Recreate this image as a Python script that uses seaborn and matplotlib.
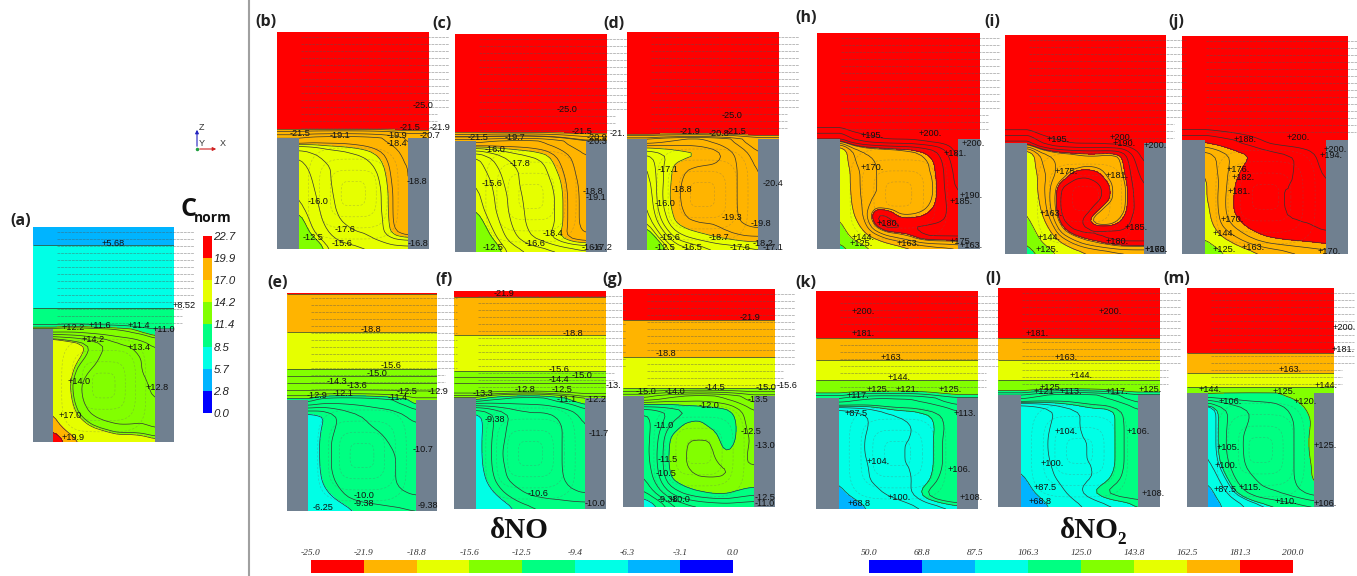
import numpy as np
import matplotlib
matplotlib.use('Agg')
import matplotlib.pyplot as plt
from matplotlib.colors import ListedColormap
import seaborn as sns

# band colours, low to high
band_colors = ['#0000ff', '#00b4ff', '#00ffe6', '#00ff82', '#82ff00', '#e6ff00', '#ffb400', '#ff0000']

cnorm_levels = [0.0, 2.8, 5.7, 8.5, 11.4, 14.2, 17.0, 19.9, 22.7]
no_levels = [-25.0, -21.9, -18.8, -15.6, -12.5, -9.4, -6.3, -3.1, 0.0]
no2_levels = [50.0, 68.8, 87.5, 106.3, 125.0, 143.8, 162.5, 181.3, 200.0]

cnorm_ticks = ['22.7', '19.9', '17.0', '14.2', '11.4', '8.5', '5.7', '2.8', '0.0']
no_ticks = ['-25.0', '-21.9', '-18.8', '-15.6', '-12.5', '-9.4', '-6.3', '-3.1', '0.0']
no2_ticks = ['50.0', '68.8', '87.5', '106.3', '125.0', '143.8', '162.5', '181.3', '200.0']

# values: upper block (value at a depth below the top edge)
a_top = ([0, 18, 81], [4.5, 5.7, 8.5])
b_top = ([0, 76, 96], [-27, -25, -22.3])
c_top = ([0, 78, 97], [-27, -25, -22.3])
d_top = ([0, 87, 100], [-27, -25, -22.6])
e_top = ([0, 39, 76, 96], [-22, -18.8, -15.6, -13.8])
f_top = ([0, 6, 44, 80, 96], [-22.5, -21.9, -18.8, -15.6, -14])
g_top = ([0, 31, 68, 99], [-23, -21.9, -18.8, -15.6])
h_top = ([0, 80], [215, 208])
i_top = ([0, 80], [215, 208])
j_top = ([0, 80], [215, 208])
k_top = ([0, 23, 47, 69, 89], [215, 200, 181.3, 162.5, 143.8])
l_top = ([0, 26, 50, 72, 92], [215, 200, 181.3, 162.5, 143.8])
m_top = ([0, 41, 65, 85, 99], [215, 200, 181.3, 162.5, 143.8])

# cavity values, top row first
a_cav = [[11.0, 11.2, 11.3, 11.3, 11.3, 11.3, 11.2, 11.0, 10.8],
         [15.5, 15, 14.6, 14.0, 13.5, 13, 12.8, 12.5, 12],
         [16, 15, 14.3, 13.8, 13.2, 13, 13, 12.8, 12.5],
         [16, 14.8, 13.8, 13.3, 13, 13, 13, 12.8, 12.5],
         [16.2, 14.6, 13.5, 13, 13, 13, 13, 13, 12.6],
         [16.5, 14.8, 13.6, 13, 13, 13, 13, 13, 12.8],
         [17.0, 15.2, 14, 13.3, 13, 13, 13, 13.2, 13],
         [18.5, 16.2, 15, 14.2, 13.8, 13.5, 13.5, 13.5, 13.3],
         [24, 19.5, 17, 16, 15.5, 15, 15, 14.8, 14.5]]
b_cav = [[-20.5, -20, -19.8, -19.7, -19.7, -19.8, -20, -20.4, -21],
         [-17, -17.5, -18, -18.2, -18.4, -18.6, -19, -19.6, -20.3],
         [-16.5, -17, -17.5, -17.8, -18, -18.2, -18.6, -19.4, -20],
         [-16.2, -16.8, -17.5, -17.8, -18, -18, -18.4, -19.3, -20],
         [-16, -16.6, -17.4, -17.8, -18, -18, -18.3, -19.2, -20],
         [-15.8, -16.4, -17.2, -17.8, -18, -18, -18.3, -19.2, -20],
         [-15.2, -16.2, -17, -17.6, -17.8, -18, -18.2, -19.2, -20],
         [-14.5, -15.8, -16.6, -17.2, -17.5, -17.6, -18.2, -19, -19.3],
         [-12.3, -14.3, -15.8, -16.3, -16.5, -16.7, -16.8, -17, -17]]
c_cav = [[-20.6, -20.2, -20, -19.8, -19.8, -20, -20.3, -20.7, -21],
         [-16.5, -17.2, -17.8, -18.2, -18.4, -18.6, -19.2, -19.8, -20.3],
         [-16.2, -16.8, -17.4, -17.8, -18, -18.3, -18.9, -19.6, -20.2],
         [-16, -16.5, -17.2, -17.8, -18, -18.2, -18.6, -19.5, -20],
         [-15.8, -16.4, -17, -17.7, -18, -18.1, -18.5, -19.4, -20],
         [-15.6, -16.3, -17, -17.6, -18, -18.1, -18.5, -19.4, -20],
         [-15, -16, -16.8, -17.5, -18, -18.1, -18.5, -19.4, -20],
         [-14.2, -15.5, -16.5, -17.2, -17.8, -18.2, -18.8, -19.4, -19.6],
         [-12.2, -14.2, -15.8, -16.3, -16.6, -16.8, -17, -17.2, -17.4]]
d_cav = [[-21, -20.5, -20.2, -20.0, -20.0, -20.2, -20.5, -21, -21.3],
         [-17.5, -18, -18.3, -18.5, -18.7, -19, -19.6, -20.2, -20.8],
         [-17, -18, -19, -19.3, -19.4, -19.4, -19.6, -20, -20.5],
         [-16.8, -18, -19.1, -19.5, -19.6, -19.6, -19.6, -20, -20.4],
         [-16.5, -18.1, -19.2, -19.5, -19.6, -19.5, -19.6, -20, -20.4],
         [-16.3, -18, -19.1, -19.5, -19.5, -19.3, -19.6, -20, -20.3],
         [-16, -17.5, -18.9, -19.3, -19.4, -19.4, -19.6, -19.9, -20.1],
         [-14.8, -16.5, -17.8, -18.4, -18.7, -19, -19.2, -19.4, -19.4],
         [-12.3, -15, -16.5, -16.8, -17.2, -17.5, -17.6, -17.8, -18]]
e_cav = [[-13, -12.3, -12, -11.9, -11.9, -12, -12.2, -12.5, -12.9],
         [-9, -9.2, -9.9, -10.4, -10.7, -10.9, -11, -11.3, -11.8],
         [-8.8, -9.4, -10, -10.4, -10.6, -10.7, -10.8, -11, -11.2],
         [-8.8, -9.5, -10.2, -10.5, -10.6, -10.6, -10.7, -10.9, -11],
         [-8.8, -9.5, -10.2, -10.5, -10.6, -10.6, -10.6, -10.8, -11],
         [-8.7, -9.5, -10.2, -10.5, -10.6, -10.6, -10.6, -10.8, -11],
         [-8.4, -9.4, -10, -10.4, -10.6, -10.6, -10.6, -10.8, -11],
         [-8, -8.9, -9.6, -10.1, -10.3, -10.4, -10.5, -10.6, -10.7],
         [-6.2, -7.2, -8.5, -9.2, -9.5, -9.6, -9.7, -9.8, -9.9]]
f_cav = [[-13.4, -12.9, -12.6, -12.4, -12.3, -12.4, -12.6, -12.8, -13],
         [-9.2, -9.8, -10.4, -10.8, -11, -11, -11.2, -11.5, -12],
         [-9, -9.8, -10.5, -10.9, -10.9, -10.7, -11, -11.3, -11.7],
         [-9, -9.9, -10.6, -10.9, -10.9, -10.9, -11, -11.3, -11.7],
         [-9, -9.9, -10.7, -10.9, -11, -10.9, -11, -11.3, -11.7],
         [-8.9, -9.9, -10.6, -10.9, -11, -10.9, -11, -11.3, -11.6],
         [-8.6, -9.7, -10.5, -10.8, -10.9, -10.9, -11, -11.2, -11.4],
         [-8, -9, -9.9, -10.4, -10.7, -10.8, -10.9, -11, -11.1],
         [-6.8, -7.6, -8.8, -9.5, -9.8, -10, -10, -10.1, -10.1]]
g_cav = [[-14.8, -14.4, -14, -13.8, -13.6, -13.7, -13.9, -14.2, -14.5],
         [-11, -11.2, -11.5, -11.8, -12, -12.1, -12.3, -12.9, -13.5],
         [-10.8, -11.2, -12, -12.6, -12.7, -12.2, -11.8, -12.8, -13.3],
         [-10.7, -11.4, -12.7, -13, -13, -13, -11.9, -12.8, -13.1],
         [-10.7, -11.5, -12.8, -13, -13.1, -13.1, -12.4, -12.9, -13.1],
         [-10.6, -11.5, -12.8, -13, -13.1, -13.1, -13, -13, -13],
         [-10.4, -11.3, -12.6, -12.9, -13, -13, -13, -12.9, -12.9],
         [-9.9, -10.7, -11.6, -12.2, -12.5, -12.7, -12.7, -12.4, -12.2],
         [-8.5, -9.3, -10.2, -10.6, -10.8, -10.9, -11, -11, -11]]
h_cav = [[190, 193, 195, 197, 198, 198, 198, 199, 200, 200, 200],
         [150, 170, 175, 176, 177, 178, 179, 181, 184, 190, 198],
         [150, 168, 174, 175, 176, 177, 178, 179, 181, 187, 195],
         [148, 165, 172, 175, 176, 177, 178, 179, 180.5, 186, 193],
         [148, 165, 172, 175, 176, 177, 178, 178, 180, 186, 192],
         [147, 164, 172, 175, 176, 177, 178, 178, 180, 185.5, 190],
         [146, 163, 171, 178, 177, 178, 178, 178.5, 181, 185, 188],
         [145, 160, 170, 187, 186, 180, 180, 181, 183, 185, 187],
         [138, 155, 165, 181, 188, 187, 186, 186, 186, 186, 186],
         [128, 145, 156, 164, 172, 176, 180, 185, 186, 186, 186],
         [120, 125, 137, 146, 152, 157, 160, 163, 165, 166, 168]]
i_cav = [[188, 192, 195, 197, 198, 198, 198, 199, 199, 200, 200],
         [150, 170, 175, 177, 178, 179, 179, 178, 180, 190, 198],
         [150, 168, 174, 176, 178, 179, 179, 178.5, 179, 187, 195],
         [148, 165, 173, 178, 184, 185, 183, 179, 178, 186, 192],
         [148, 165, 175, 186, 188, 188, 187, 182, 176, 185, 190],
         [146, 163, 176, 187, 189, 189, 187, 182, 176, 185, 188],
         [144, 160, 175, 187, 189, 188, 182, 177, 177, 185, 187],
         [140, 155, 170, 185, 189, 183, 176, 176, 181, 186, 187],
         [132, 148, 162, 178, 185, 187, 187, 187, 186, 186, 186],
         [125, 140, 152, 163, 172, 178, 181, 184, 186, 186, 186],
         [118, 125, 138, 148, 155, 160, 163, 165, 167, 168, 168]]
j_cav = [[186, 188, 190, 193, 197, 199, 200, 200, 200],
         [165, 172, 178, 180.5, 184, 186, 188, 192, 198],
         [163, 172, 179, 184, 186, 187, 188, 191, 196],
         [160, 171, 182, 186, 188, 188, 188, 190, 194],
         [160, 172, 183, 187, 188, 188, 188, 190, 193],
         [158, 172, 183, 187, 188, 188, 188, 189, 191],
         [155, 170, 178, 184, 187, 188, 188, 188, 190],
         [143, 160, 168, 175, 180, 182, 183, 184, 185],
         [123, 138, 152, 158, 162, 165, 168, 170, 172]]
k_cav = [[122, 118, 116, 115, 115, 115, 117, 120, 122],
         [95, 98, 100, 103, 104.5, 105, 106, 108, 112],
         [93, 97, 100, 102, 103, 104, 105, 107.5, 110],
         [92, 97, 101, 103, 104, 104, 105, 108, 110],
         [92, 97, 101, 103, 104, 104, 105, 108, 110],
         [91, 96, 100, 103, 104, 104, 105, 108, 110],
         [88, 95, 100, 102, 103, 104, 105.5, 109, 111],
         [83, 91, 96, 100, 102, 104, 109, 112, 113],
         [66, 78, 88, 93, 96, 98, 100, 102, 104]]
l_cav = [[122, 118, 115, 113, 113, 114, 116, 120, 122],
         [92, 95, 99, 102, 104, 105, 105, 108, 113],
         [90, 95, 100, 103, 104, 105, 105, 108, 110],
         [90, 96, 101, 103, 104, 104, 105, 108, 110],
         [90, 96, 101, 103, 104, 104, 105, 108, 110],
         [89, 96, 100, 103, 104, 104, 105, 108, 110],
         [85, 93, 99, 102, 103, 104, 106, 108.5, 110],
         [78, 89, 95, 100, 104, 107, 109, 110, 110],
         [65, 78, 88, 95, 99, 101, 103, 104, 106]]
m_cav = [[130, 128, 127, 126, 126, 126, 127, 128, 130],
         [100, 108, 112, 115, 116, 117, 120, 124, 127],
         [100, 108, 112, 115, 116, 117, 118, 122, 126],
         [100, 108, 113, 116, 117, 117, 118, 122, 127],
         [100, 108, 113, 116, 117, 117, 118, 122, 127],
         [98, 107, 112, 116, 117, 117, 118, 122, 126],
         [90, 103, 110, 114, 116, 117, 118, 122, 126],
         [80, 96, 106, 111, 114, 115, 117, 120, 124],
         [72, 86, 94, 100, 103, 105, 106, 107, 108]]

# contour labels: x, y in image pixels, text
a_labels = [(102, 243, '+5.68'), (173, 306, '+8.52'), (62, 328, '+12.2'), (89, 325, '+11.6'),
            (128, 326, '+11.4'), (153, 329, '+11.0'), (82, 339, '+14.2'), (128, 347, '+13.4'),
            (68, 381, '+14.0'), (146, 388, '+12.8'), (59, 416, '+17.0'), (62, 438, '+19.9')]
b_labels = [(413, 105, '-25.0'), (290, 133, '-21.5'), (330, 135, '-19.1'), (387, 135, '-19.9'),
            (400, 128, '-21.5'), (430, 128, '-21.9'), (420, 136, '-20.7'), (387, 144, '-18.4'),
            (407, 182, '-18.8'), (308, 202, '-16.0'), (335, 230, '-17.6'), (303, 238, '-12.5'),
            (332, 244, '-15.6'), (408, 244, '-16.8')]
c_labels = [(557, 109, '-25.0'), (468, 137, '-21.5'), (505, 137, '-19.7'), (572, 132, '-21.5'),
            (587, 137, '-20.9'), (610, 134, '-21.'), (587, 142, '-20.3'), (485, 150, '-16.0'),
            (510, 163, '-17.8'), (482, 184, '-15.6'), (583, 191, '-18.8'), (586, 198, '-19.1'),
            (543, 233, '-18.4'), (525, 244, '-16.6'), (483, 247, '-12.5'), (582, 247, '-16.6'),
            (592, 247, '-17.2')]
d_labels = [(722, 115, '-25.0'), (680, 131, '-21.9'), (709, 133, '-20.8'), (726, 132, '-21.5'),
            (658, 169, '-17.1'), (672, 189, '-18.8'), (655, 203, '-16.0'), (722, 217, '-19.3'),
            (751, 224, '-19.8'), (763, 183, '-20.4'), (660, 237, '-15.6'), (709, 237, '-18.7'),
            (655, 247, '-12.5'), (682, 247, '-16.5'), (730, 247, '-17.6'), (753, 244, '-18.2'),
            (763, 247, '-17.1')]
e_labels = [(361, 329, '-18.8'), (381, 366, '-15.6'), (367, 373, '-15.0'), (327, 381, '-14.3'),
            (347, 385, '-13.6'), (307, 396, '-12.9'), (333, 393, '-12.1'), (397, 391, '-12.5'),
            (388, 397, '-11.4'), (428, 392, '-12.9'), (413, 450, '-10.7'), (354, 496, '-10.0'),
            (354, 503, '-9.38'), (313, 507, '-6.25'), (418, 506, '-9.38')]
f_labels = [(494, 294, '-21.9'), (563, 333, '-18.8'), (549, 369, '-15.6'), (572, 375, '-15.0'),
            (549, 379, '-14.4'), (606, 385, '-13.'), (473, 393, '-13.3'), (515, 389, '-12.8'),
            (552, 390, '-12.5'), (557, 399, '-11.1'), (586, 399, '-12.2'), (485, 420, '-9.38'),
            (589, 434, '-11.7'), (528, 493, '-10.6'), (585, 503, '-10.0')]
g_labels = [(740, 317, '-21.9'), (656, 354, '-18.8'), (636, 392, '-15.0'), (665, 391, '-14.0'),
            (705, 387, '-14.5'), (756, 388, '-15.0'), (777, 385, '-15.6'), (748, 399, '-13.5'),
            (699, 405, '-12.0'), (654, 426, '-11.0'), (741, 432, '-12.5'), (755, 446, '-13.0'),
            (658, 460, '-11.5'), (656, 474, '-10.5'), (658, 500, '-9.38'), (670, 500, '-10.0'),
            (755, 497, '-12.5'), (755, 503, '-11.0')]
h_labels = [(861, 136, '+195.'), (919, 133, '+200.'), (962, 144, '+200.'), (944, 154, '+181.'),
            (861, 168, '+170.'), (960, 195, '+190.'), (950, 202, '+185.'), (877, 223, '+180.'),
            (852, 237, '+144.'), (850, 244, '+125.'), (897, 244, '+163.'), (950, 241, '+175.'),
            (960, 245, '+163.')]
i_labels = [(1047, 139, '+195.'), (1110, 138, '+200.'), (1113, 143, '+190.'), (1144, 145, '+200.'),
            (1055, 171, '+175.'), (1106, 176, '+181.'), (1040, 214, '+163.'), (1125, 228, '+185.'),
            (1038, 237, '+144.'), (1106, 242, '+180.'), (1036, 249, '+125.'), (1145, 249, '+170.'),
            (1145, 250, '+163.')]
j_labels = [(1234, 140, '+188.'), (1287, 138, '+200.'), (1324, 149, '+200.'), (1320, 156, '+194.'),
            (1227, 169, '+176.'), (1232, 178, '+182.'), (1228, 192, '+181.'), (1221, 220, '+170.'),
            (1213, 234, '+144.'), (1213, 249, '+125.'), (1242, 248, '+163.'), (1318, 251, '+170.')]
k_labels = [(852, 311, '+200.'), (852, 334, '+181.'), (881, 357, '+163.'), (888, 377, '+144.'),
            (867, 390, '+125.'), (896, 390, '+121.'), (939, 390, '+125.'), (847, 395, '+117.'),
            (845, 414, '+87.5'), (954, 413, '+113.'), (867, 462, '+104.'), (948, 469, '+106.'),
            (888, 497, '+100.'), (960, 497, '+108.'), (848, 504, '+68.8')]
l_labels = [(1099, 311, '+200.'), (1026, 334, '+181.'), (1055, 357, '+163.'), (1070, 376, '+144.'),
            (1040, 388, '+125.'), (1034, 392, '+121'), (1060, 392, '+113.'), (1106, 392, '+117.'),
            (1139, 390, '+125.'), (1055, 432, '+104.'), (1127, 432, '+106.'), (1041, 463, '+100.'),
            (1034, 487, '+87.5'), (1142, 494, '+108.'), (1029, 501, '+68.8')]
m_labels = [(1333, 327, '+200.'), (1332, 350, '+181.'), (1279, 370, '+163.'), (1199, 390, '+144.'),
            (1315, 385, '+144.'), (1273, 392, '+125.'), (1219, 402, '+106.'), (1294, 402, '+120.'),
            (1217, 447, '+105.'), (1314, 445, '+125.'), (1215, 466, '+100.'), (1214, 489, '+87.5'),
            (1239, 488, '+115.'), (1275, 502, '+110.'), (1314, 503, '+106.')]

letters = [(10, 221, '(a)'), (255, 22, '(b)'), (432, 24, '(c)'), (603, 24, '(d)'), (267, 283, '(e)'),
           (435, 280, '(f)'), (602, 280, '(g)'), (795, 18, '(h)'), (984, 22, '(i)'), (1168, 22, '(j)'),
           (795, 283, '(k)'), (985, 279, '(l)'), (1163, 279, '(m)')]

# left, right, top, bottom, cavity left, cavity right, cavity top (pixels)
panels = [
    (33, 174, 227, 442, 52.5, 155, 329, a_top, a_cav, a_labels, cnorm_levels),
    (277, 429, 32, 249, 298.5, 408, 138, b_top, b_cav, b_labels, no_levels),
    (455, 607, 34, 252, 476, 586, 141, c_top, c_cav, c_labels, no_levels),
    (627, 779, 32, 250, 647, 758, 139, d_top, d_cav, d_labels, no_levels),
    (287, 437, 293, 511, 308, 416, 400, e_top, e_cav, e_labels, no_levels),
    (454, 606, 291, 509, 476, 585, 398, f_top, f_cav, f_labels, no_levels),
    (623, 775, 289, 507, 644, 754, 396, g_top, g_cav, g_labels, no_levels),
    (817, 980, 33, 249, 839.5, 958, 139, h_top, h_cav, h_labels, no2_levels),
    (1005, 1166, 35, 254, 1027, 1144, 143, i_top, i_cav, i_labels, no2_levels),
    (1182, 1348, 36, 254, 1205, 1326, 140, j_top, j_cav, j_labels, no2_levels),
    (816, 978, 291, 509, 838.6, 956.5, 398, k_top, k_cav, k_labels, no2_levels),
    (998, 1160, 288, 507, 1021, 1138, 395, l_top, l_cav, l_labels, no2_levels),
    (1187, 1334, 288, 507, 1207.5, 1314, 393, m_top, m_cav, m_labels, no2_levels),
]

W, H = 1357, 576
sns.set_theme(style='white')
plt.rcParams['font.family'] = ['Liberation Sans', 'DejaVu Sans']
fig = plt.figure(figsize=(W / 100, H / 100), dpi=100)


def px_axes(x0, x1, y0, y1):
    return fig.add_axes([x0 / W, 1 - y1 / H, (x1 - x0) / W, (y1 - y0) / H])


def soften(grid, n=4):
    # finer mesh over the read values so the contours do not come out as polygons
    nrow, ncol = grid.shape
    xi = np.linspace(0, ncol - 1, (ncol - 1) * n + 1)
    yi = np.linspace(0, nrow - 1, (nrow - 1) * n + 1)
    fine = np.array([np.interp(xi, np.arange(ncol), row) for row in grid])
    fine = np.array([np.interp(yi, np.arange(nrow), col) for col in fine.T]).T
    for _ in range(3):
        pad = np.pad(fine, 1, mode='edge')
        fine = (pad[1:-1, :-2] + 2 * pad[1:-1, 1:-1] + pad[1:-1, 2:]) / 4
        pad = np.pad(fine, 1, mode='edge')
        fine = (pad[:-2, 1:-1] + 2 * pad[1:-1, 1:-1] + pad[2:, 1:-1]) / 4
    return fine


loop_sizes = [0.22, 0.42, 0.62, 0.82]
overlay_items = []

for left, right, top, bottom, cl, cr, lip, top_prof, cav, labels, levels in panels:
    ax = px_axes(left, right, top, bottom)
    cav = soften(np.array(cav, dtype=float))
    nrow, ncol = cav.shape
    x = np.r_[left, np.linspace(cl, cr, ncol), right]
    y = np.r_[top + np.array(top_prof[0], dtype=float), np.linspace(lip, bottom, nrow)]
    top_rows = np.outer(top_prof[1], np.ones(ncol + 2))
    cav_rows = np.c_[cav[:, 0], cav, cav[:, -1]]
    field = np.vstack([top_rows, cav_rows])

    colors = band_colors if levels is not no_levels else band_colors[::-1]
    ax.contourf(x, y, np.clip(field, levels[0], levels[-1]), levels=levels, colors=colors)

    # black lines at the band edges and at the labelled values
    span = levels[-1] - levels[0]
    extras = [float(t[2].strip('+.')) for t in labels]
    extras = [v for v in extras if min(abs(v - b) for b in levels) > span * 0.006]
    line_levels = sorted(set(levels[1:-1]) | set(extras))
    ax.contour(x, y, field, levels=line_levels, colors='#333333', linewidths=0.5, linestyles='solid')

    for x0, x1 in [(left, cl), (cr, right)]:
        ax.fill_between([x0, x1], lip, bottom, color='#708090', lw=0, zorder=5)
    ax.set_xlim(left, right)
    ax.set_ylim(bottom, top)
    ax.axis('off')
    overlay_items.append((left, right, top, bottom, cl, cr, lip, labels))

# colour bars
cnorm_bar = px_axes(203, 212, 236, 413)
sns.heatmap(np.arange(8)[::-1].reshape(8, 1), ax=cnorm_bar, cmap=ListedColormap(band_colors), cbar=False,
            xticklabels=False)
cnorm_bar.yaxis.tick_right()
cnorm_bar.set_yticks(np.arange(9))
cnorm_bar.set_yticklabels(cnorm_ticks, rotation=0, fontsize=8.2, style='italic', color='#222222')
cnorm_bar.tick_params(axis='y', length=0, pad=1)

no_bar = px_axes(311, 733, 560, 573)
sns.heatmap(np.arange(8).reshape(1, 8), ax=no_bar, cmap=ListedColormap(band_colors[::-1]), cbar=False,
            yticklabels=False)
no2_bar = px_axes(869, 1293, 560, 573)
sns.heatmap(np.arange(8).reshape(1, 8), ax=no2_bar, cmap=ListedColormap(band_colors), cbar=False,
            yticklabels=False)
for bar, ticks in [(no_bar, no_ticks), (no2_bar, no2_ticks)]:
    bar.xaxis.tick_top()
    bar.set_xticks(np.arange(9))
    bar.set_xticklabels(ticks, rotation=0, fontsize=6.8, style='italic', family='Liberation Serif',
                        color='#333333')
    bar.tick_params(axis='x', length=0, pad=2)

ov = fig.add_axes([0, 0, 1, 1], facecolor='none')
ov.set_xlim(0, W)
ov.set_ylim(H, 0)
ov.axis('off')

ov.plot([249, 249], [0, H], color='#a0a0a0', lw=1.5)

for left, right, top, bottom, cl, cr, lip, labels in overlay_items:
    # flow dashes in the upper block, running past the right edge
    rows = np.arange(top + 5, lip - 4, 7)
    for n, row in enumerate(rows):
        reach = right + (20 if n < len(rows) * 0.75 else 8)
        ov.plot([left + 24, reach], [row, row], color='#555555', lw=0.5, alpha=0.55,
                ls=(0, (4, 1.2)))
    # recirculation dashes in the cavity
    cx, cy = (cl + cr) / 2, (lip + bottom) / 2
    t = np.linspace(0, 2 * np.pi, 120)
    for s in loop_sizes:
        px = cx + s * (cr - cl) / 2 * np.sign(np.cos(t)) * np.abs(np.cos(t)) ** 0.5
        py = cy + s * (bottom - lip) / 2 * np.sign(np.sin(t)) * np.abs(np.sin(t)) ** 0.5
        ov.plot(px, py, color='#666666', lw=0.4, alpha=0.4, ls=(0, (4, 3)))
    for tx, ty, text in labels:
        ov.text(tx, ty, text, fontsize=6.6, va='center', ha='left', color='#111111')

for tx, ty, text in letters:
    ov.text(tx, ty, text, fontsize=11.5, fontweight='bold', family='Open Sans', va='center', ha='left',
            color='#222222')

# titles
ov.text(181, 209, 'C', fontsize=18, fontweight='bold', family='Open Sans', va='center', ha='left', color='#111111')
ov.text(194, 218, 'norm', fontsize=10, fontweight='bold', family='Open Sans', va='center', ha='left', color='#111111')
ov.text(519, 531, 'δNO', fontsize=21, fontweight='bold', family='Liberation Serif', va='center', ha='center',
        color='#111111')
ov.text(1094, 531, 'δNO₂', fontsize=21, fontweight='bold', family=['Liberation Serif', 'DejaVu Serif'], va='center',
        ha='center', color='#111111')

# axis triad
ov.annotate('', xy=(197, 127), xytext=(197, 149), arrowprops=dict(arrowstyle='-|>', color='#2020c0', lw=0.8, mutation_scale=5))
ov.annotate('', xy=(219, 149), xytext=(197, 149), arrowprops=dict(arrowstyle='-|>', color='#d02020', lw=0.8, mutation_scale=5))
ov.plot([197], [149], marker='o', ms=1.5, color='#20a040')
for tx, ty, text in [(199, 128, 'Z'), (199, 144, 'Y'), (220, 144, 'X')]:
    ov.text(tx, ty, text, fontsize=6.5, va='center', ha='left', color='#333333')

fig.savefig('out.png', dpi=100, facecolor='white')
